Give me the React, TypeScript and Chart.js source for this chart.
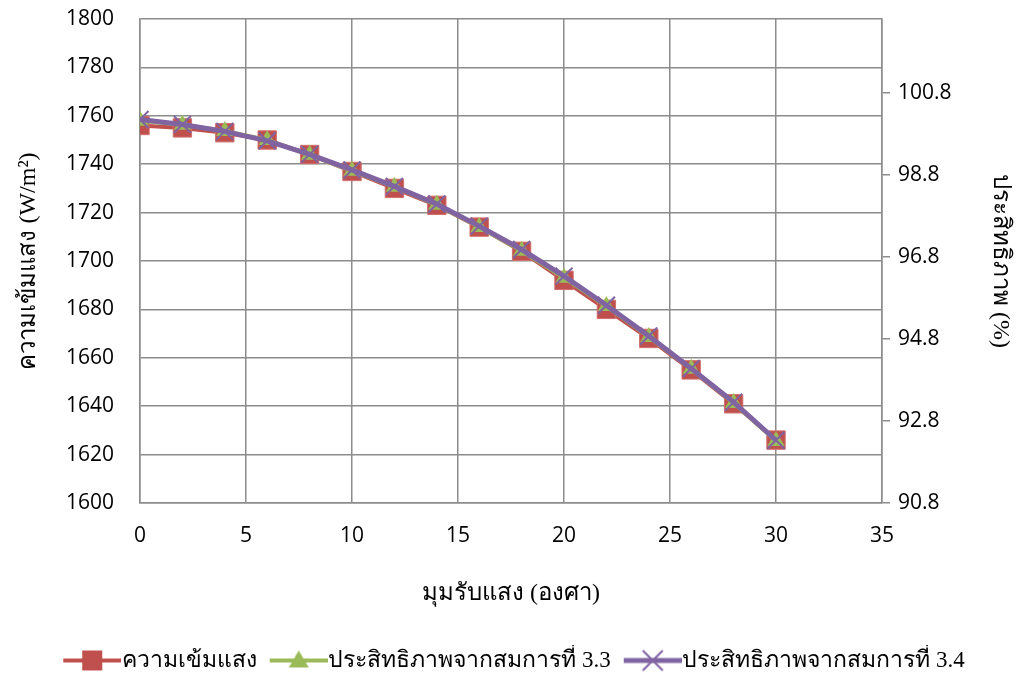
import React, { useEffect, useRef } from "react";
import { Chart, registerables } from "chart.js";

Chart.register(...registerables);

const angles = [0, 2, 4, 6, 8, 10, 12, 14, 16, 18, 20, 22, 24, 26, 28, 30];
const intensity = [1756, 1755, 1753, 1750, 1744, 1737, 1730, 1723, 1714, 1704, 1692, 1680, 1668, 1655, 1641, 1626];
const eff33 = [100.12, 100.02, 99.87, 99.65, 99.29, 98.9, 98.51, 98.07, 97.53, 96.95, 96.29, 95.6, 94.85, 94.07, 93.24, 92.31];
const eff34 = [100.15, 100.03, 99.86, 99.63, 99.3, 98.92, 98.52, 98.09, 97.55, 96.98, 96.33, 95.62, 94.87, 94.08, 93.26, 92.33];
const rightTicks = [90.8, 92.8, 94.8, 96.8, 98.8, 100.8];

const labelIntensity = "ความเข้มแสง";
const label33 = "ประสิทธิภาพจากสมการที่ 3.3";
const label34 = "ประสิทธิภาพจากสมการที่ 3.4";
const xTitle = "มุมรับแสง (องศา)";
const yTitle = "ความเข้มแสง (W/m²)";
const y2Title = "ประสิทธิภาพ (%)";

const RED = "#C0504D";
const GREEN = "#9BBB59";
const PURPLE = "#8064A2";
const GRID = "#8C8C8C";
const TICK_FONT = "'Open Sans', 'Liberation Sans', sans-serif";
const THAI_FONT = "'Liberation Serif', 'DejaVu Serif', serif";

function legendIcon(kind: string, color: string, lineW: number): HTMLCanvasElement {
  const c = document.createElement("canvas");
  c.width = 78;
  c.height = 24;
  const ctx = c.getContext("2d")!;
  const x0 = 20;
  const x1 = 78;
  const cx = (x0 + x1) / 2;
  ctx.strokeStyle = color;
  ctx.lineWidth = lineW;
  ctx.beginPath();
  ctx.moveTo(x0, 12);
  ctx.lineTo(x1, 12);
  ctx.stroke();
  ctx.fillStyle = color;
  if (kind === "rect") {
    ctx.fillRect(cx - 10, 12 - 10, 20, 20);
  } else if (kind === "triangle") {
    ctx.beginPath();
    ctx.moveTo(cx, 2);
    ctx.lineTo(cx + 10, 19);
    ctx.lineTo(cx - 10, 19);
    ctx.closePath();
    ctx.fill();
  } else {
    ctx.lineWidth = 2;
    ctx.beginPath();
    ctx.moveTo(cx - 10, 2);
    ctx.lineTo(cx + 10, 22);
    ctx.moveTo(cx + 10, 2);
    ctx.lineTo(cx - 10, 22);
    ctx.stroke();
  }
  return c;
}

const zeroPad = (s: any) => {
  s.paddingTop = 0;
  s.paddingBottom = 0;
  s.paddingLeft = 0;
  s.paddingRight = 0;
};

export default function App() {
  const ref = useRef<HTMLCanvasElement | null>(null);

  useEffect(() => {
    document.body.style.margin = "0";
    const canvas = ref.current;
    if (!canvas) return;
    const icons = [
      legendIcon("rect", RED, 4),
      legendIcon("triangle", GREEN, 4),
      legendIcon("cross", PURPLE, 5),
    ];
    const chart = new Chart(canvas, {
      type: "line",
      data: {
        datasets: [
          {
            label: labelIntensity,
            data: angles.map((a, i) => ({ x: a, y: intensity[i] })),
            yAxisID: "y",
            borderColor: RED,
            backgroundColor: RED,
            borderWidth: 4,
            pointStyle: "rect",
            pointRadius: 13,
            pointBorderWidth: 1,
            pointBorderColor: "#D0706D",
            order: 3,
          },
          {
            label: label33,
            data: angles.map((a, i) => ({ x: a, y: eff33[i] })),
            yAxisID: "y2",
            borderColor: GREEN,
            backgroundColor: GREEN,
            borderWidth: 4,
            pointStyle: "triangle",
            pointRadius: 10,
            pointBorderWidth: 0,
            order: 2,
          },
          {
            label: label34,
            data: angles.map((a, i) => ({ x: a, y: eff34[i] })),
            yAxisID: "y2",
            borderColor: PURPLE,
            backgroundColor: PURPLE,
            borderWidth: 5,
            pointStyle: "crossRot",
            pointRadius: 12,
            pointBorderWidth: 2,
            order: 1,
          },
        ],
      },
      options: {
        responsive: false,
        animation: false,
        layout: { autoPadding: false, padding: { top: 19, left: 0, right: 0, bottom: -7 } },
        plugins: {
          tooltip: { enabled: false },
          legend: {
            position: "bottom",
            labels: {
              usePointStyle: true,
              pointStyleWidth: 56,
              padding: 4,
              color: "#000",
              font: { family: THAI_FONT, size: 23 },
              generateLabels: (ch: any) =>
                ch.data.datasets.map((ds: any, i: number) => ({
                  text: ds.label,
                  datasetIndex: i,
                  pointStyle: icons[i],
                  fillStyle: ds.borderColor,
                  strokeStyle: ds.borderColor,
                  lineWidth: 0,
                  hidden: false,
                  fontColor: "#000",
                })),
            },
          },
        },
        scales: {
          x: {
            type: "linear",
            min: 0,
            max: 35,
            ticks: {
              stepSize: 5,
              padding: 20,
              color: "#000",
              font: { family: TICK_FONT, size: 21 },
            },
            grid: { color: GRID, lineWidth: 1.5, drawTicks: false },
            border: { color: GRID, width: 1.5 },
            title: {
              display: true,
              text: xTitle,
              color: "#000",
              font: { family: THAI_FONT, size: 24 },
              padding: { top: 0, bottom: 37 },
            },
            afterFit: (s: any) => {
              s.height = 142;
              zeroPad(s);
            },
          },
          y: {
            type: "linear",
            position: "left",
            min: 1600,
            max: 1800,
            ticks: {
              stepSize: 20,
              padding: 26,
              color: "#000",
              font: { family: TICK_FONT, size: 21 },
              callback: (v: any) => String(v),
            },
            grid: { color: GRID, lineWidth: 1.5, drawTicks: false },
            border: { color: GRID, width: 1.5 },
            title: {
              display: true,
              text: yTitle,
              color: "#000",
              font: { family: THAI_FONT, size: 24 },
              padding: { top: 14, bottom: 0 },
            },
            afterFit: (s: any) => {
              s.width = 140;
              zeroPad(s);
            },
          },
          y2: {
            type: "linear",
            position: "right",
            min: 90.8,
            max: 102.6,
            afterBuildTicks: (s: any) => {
              s.ticks = rightTicks.map((v) => ({ value: v }));
            },
            ticks: {
              padding: 8,
              color: "#000",
              font: { family: TICK_FONT, size: 21 },
              callback: (v: any) => Number(v).toFixed(1),
            },
            grid: { drawOnChartArea: false, color: GRID, lineWidth: 1.5, tickLength: 8 },
            border: { color: GRID, width: 1.5 },
            title: {
              display: true,
              text: y2Title,
              color: "#000",
              font: { family: THAI_FONT, size: 24 },
              padding: { top: 4, bottom: 0 },
            },
            afterFit: (s: any) => {
              s.width = 137;
              zeroPad(s);
            },
          },
        },
      },
    });
    return () => chart.destroy();
  }, []);

  return <canvas ref={ref} width={1019} height={675} style={{ display: "block" }} />;
}
